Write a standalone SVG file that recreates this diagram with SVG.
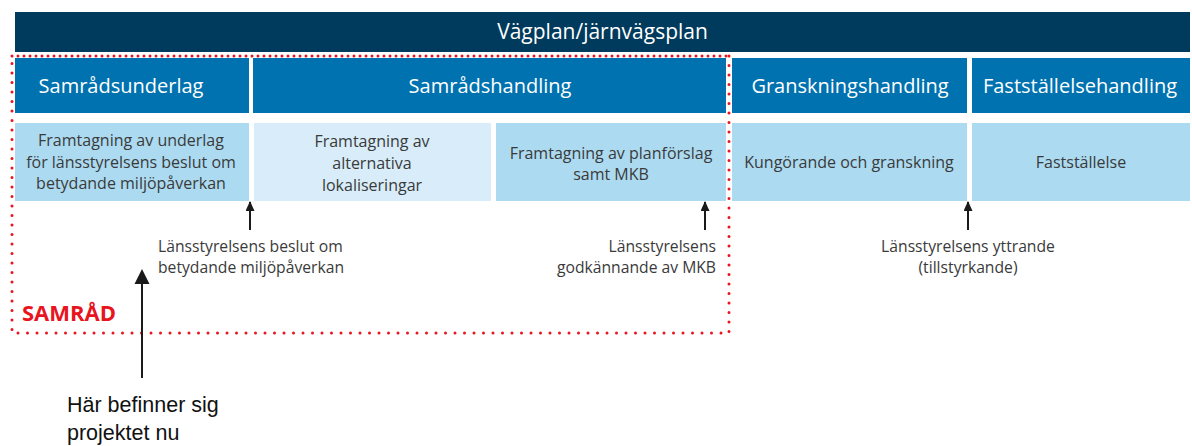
<svg xmlns="http://www.w3.org/2000/svg" width="1192" height="446" viewBox="0 0 1192 446">
  <defs>
    <style>
      .bar { fill: #003a5c; }
      .hdr { fill: #0072b0; }
      .box { fill: #acdaf1; }
      .boxl { fill: #d8edf9; }
      .ht { font-family: "Open Sans", Lato, sans-serif; font-size: 20px; fill: #ffffff; text-anchor: middle; }
      .bt { font-family: "Open Sans", Lato, sans-serif; font-size: 16px; fill: #3a3a3a; text-anchor: middle; }
      .lt { font-family: "Open Sans", Lato, sans-serif; font-size: 15.7px; fill: #3a3a3a; }
      .arr { stroke: #1a1a1a; stroke-width: 2; fill: none; }
      .dot { stroke: #e8141e; stroke-width: 3; stroke-linecap: round; fill: none; }
    </style>
    <marker id="ah" markerWidth="10" markerHeight="9" refX="9" refY="4.5" orient="auto" markerUnits="userSpaceOnUse" viewBox="0 0 10 9">
      <path d="M0 0 L10 4.5 L0 9 Z" fill="#1a1a1a"/>
    </marker>
  </defs>
  <rect width="1192" height="446" fill="#ffffff"/>

  <g id="vagplan">
    <rect class="bar" x="15" y="12" width="1175" height="40"/>
    <text class="ht" x="602.5" y="39" style="font-size:21px">Vägplan/järnvägsplan</text>
  </g>

  <g id="samradsunderlag">
    <rect class="hdr" x="15" y="58" width="234" height="55"/>
    <text class="ht" x="121" y="93">Samrådsunderlag</text>
  </g>
  <g id="samradshandling">
    <rect class="hdr" x="253" y="58" width="473" height="55"/>
    <text class="ht" x="490" y="93">Samrådshandling</text>
  </g>
  <g id="granskningshandling">
    <rect class="hdr" x="732" y="58" width="235" height="55"/>
    <text class="ht" x="850" y="93">Granskningshandling</text>
  </g>
  <g id="faststallelsehandling">
    <rect class="hdr" x="972" y="58" width="218" height="55"/>
    <text class="ht" x="1080" y="93">Fastställelsehandling</text>
  </g>

  <g id="framtagning-underlag">
    <rect class="box" x="15" y="123" width="234" height="78"/>
    <text class="bt" x="131" y="146">Framtagning av underlag</text>
    <text class="bt" x="131" y="168">för länsstyrelsens beslut om</text>
    <text class="bt" x="131" y="189">betydande miljöpåverkan</text>
  </g>
  <g id="framtagning-alternativa">
    <rect class="boxl" x="254" y="123" width="237" height="78"/>
    <text class="bt" x="372" y="147">Framtagning av</text>
    <text class="bt" x="372" y="169">alternativa</text>
    <text class="bt" x="372" y="191">lokaliseringar</text>
  </g>
  <g id="framtagning-planforslag">
    <rect class="box" x="496" y="123" width="230" height="78"/>
    <text class="bt" x="611" y="159">Framtagning av planförslag</text>
    <text class="bt" x="611" y="180">samt MKB</text>
  </g>
  <g id="kungorande">
    <rect class="box" x="732" y="123" width="235" height="78"/>
    <text class="bt" x="849" y="168">Kungörande och granskning</text>
  </g>
  <g id="faststallelse">
    <rect class="box" x="972" y="123" width="218" height="78"/>
    <text class="bt" x="1081" y="168">Fastställelse</text>
  </g>

  <g id="samrad">
    <path class="dot" d="M12 56 H729" stroke-dasharray="0 6"/>
    <path class="dot" d="M729 56 V333 H12 V56" stroke-dasharray="0 9.5"/>
    <text x="22" y="321" font-family="'Open Sans', Lato, sans-serif" font-weight="bold" font-size="22" fill="#e8141e">SAMRÅD</text>
  </g>

  <g id="labels">
    <text class="lt" x="158" y="252">Länsstyrelsens beslut om</text>
    <text class="lt" x="158" y="273">betydande miljöpåverkan</text>
    <text class="lt" x="716" y="252" text-anchor="end">Länsstyrelsens</text>
    <text class="lt" x="716" y="273" text-anchor="end">godkännande av MKB</text>
    <text class="lt" x="968" y="252" text-anchor="middle">Länsstyrelsens yttrande</text>
    <text class="lt" x="968" y="273" text-anchor="middle">(tillstyrkande)</text>
  </g>

  <g id="har-befinner">
    <text x="67" y="412" font-family="'Liberation Sans', Arial, sans-serif" font-size="21.5" fill="#111111">Här befinner sig</text>
    <text x="67" y="440" font-family="'Liberation Sans', Arial, sans-serif" font-size="21.5" fill="#111111">projektet nu</text>
  </g>

  <g id="connectors">
    <line class="arr" x1="250" y1="230" x2="250" y2="202" marker-end="url(#ah)"/>
    <line class="arr" x1="705" y1="230" x2="705" y2="202" marker-end="url(#ah)"/>
    <line class="arr" x1="968" y1="230" x2="968" y2="202" marker-end="url(#ah)"/>
    <line class="arr" x1="142" y1="378" x2="142" y2="282"/>
    <path d="M142 269 L149.5 284 L134.5 284 Z" fill="#1a1a1a"/>
  </g>
</svg>
